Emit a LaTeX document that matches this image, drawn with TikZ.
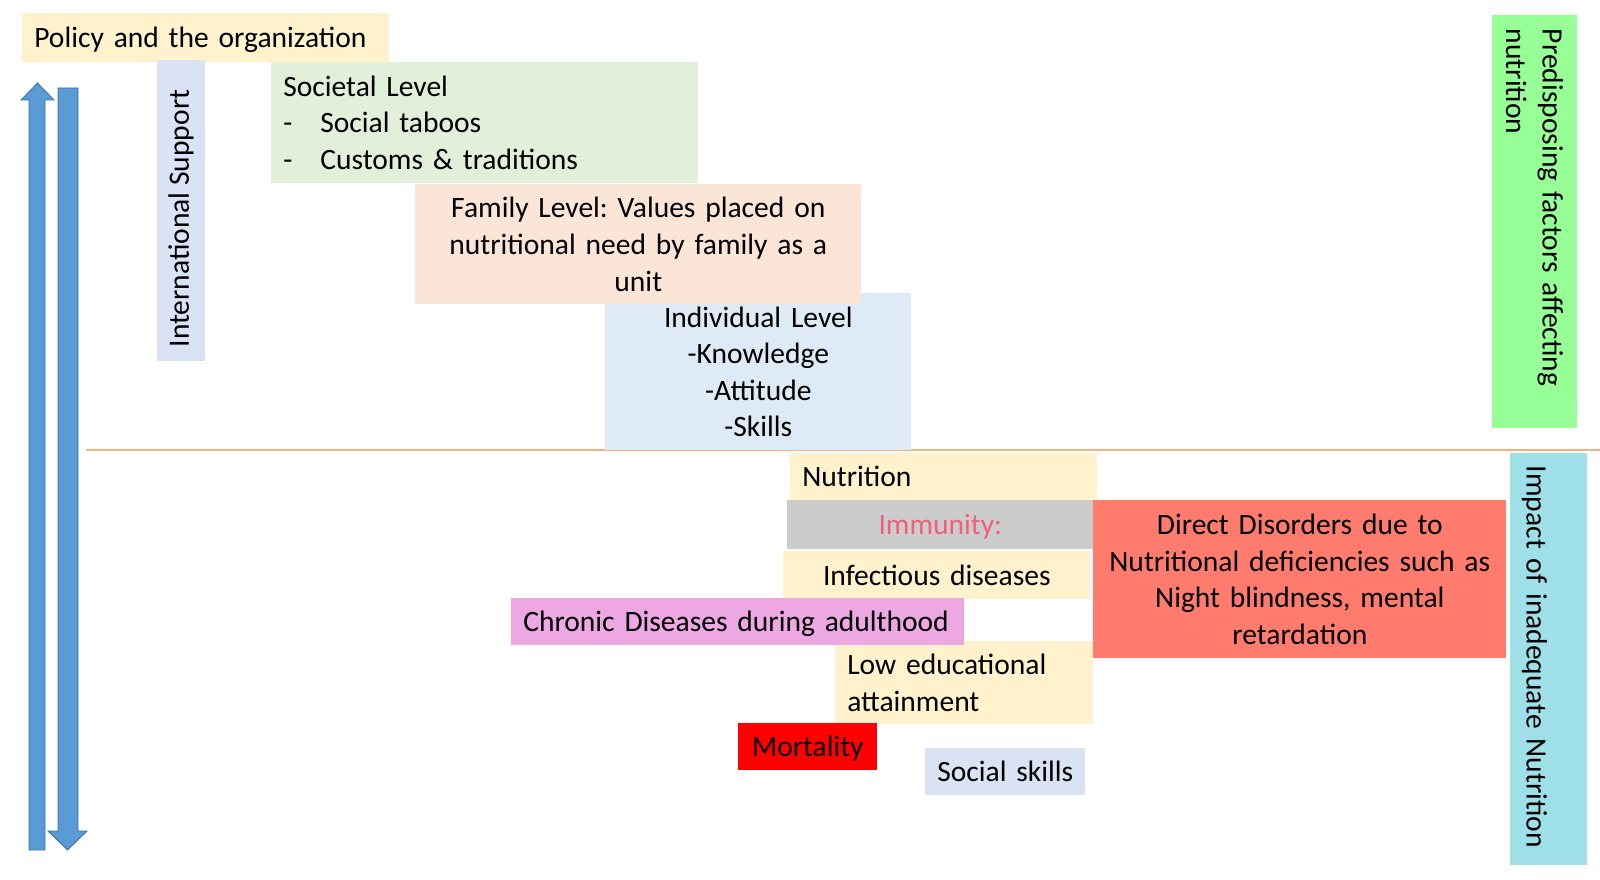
\documentclass[tikz,border=0pt]{standalone}
\usepackage{fontspec}
\setmainfont{Carlito}
\frenchspacing
\definecolor{goldfill}{HTML}{FFF2CC}
\definecolor{bluefill}{HTML}{DAE3F3}
\definecolor{greenfill}{HTML}{E2EFDA}
\definecolor{peachfill}{HTML}{FBE5D6}
\definecolor{skyfill}{HTML}{DEEBF7}
\definecolor{greyfill}{HTML}{CDCCCC}
\definecolor{immtext}{HTML}{F0607A}
\definecolor{salmonfill}{HTML}{FF7B6E}
\definecolor{orchidfill}{HTML}{EDA8E4}
\definecolor{limefill}{HTML}{96FF96}
\definecolor{cyanfill}{HTML}{9FDFE8}
\definecolor{arrowfill}{HTML}{5B9BD5}
\definecolor{arrowline}{HTML}{41719C}
\definecolor{sepline}{HTML}{F4B183}
\usetikzlibrary{positioning}

\begin{document}
\begin{tikzpicture}[x=0.025cm,y=-0.025cm,
    box/.style={anchor=north west,inner xsep=0.3cm,inner ysep=0pt,font=\fontsize{21}{26}\selectfont},
    lbox/.style={box,align=left},
    cbox/.style={box,align=center},
    oneline/.style={text height=14pt,text depth=0pt},
    sidebox/.style={anchor=center,inner ysep=0pt,font=\fontsize{21}{26}\selectfont},
    bigarrow/.style={fill=arrowfill,draw=arrowline,line width=0.6pt}]
  \useasboundingbox (0,0) rectangle (1600,880);
  \draw[sepline,line width=0.8pt] (86,450) -- (1600,450);
  \path[bigarrow] (29,850) -- (29,100) -- (21,100) -- (37.5,83) -- (54,100) -- (45,100) -- (45,850) -- cycle;
  \path[bigarrow] (58,88) -- (78,88) -- (78,831) -- (87,831) -- (67.5,850) -- (48,831) -- (58,831) -- cycle;
  \node[lbox,oneline,fill=goldfill,text width=8.575cm,minimum height=1.225cm] (policy) at (22,13) {Policy and the organization};
  \node[sidebox,fill=bluefill,rotate=90,minimum width=7.525cm,minimum height=1.2cm] (intl) at (181,210.5) {International Support\kern0.4cm};
  \node[lbox,fill=greenfill,text width=10.075cm,minimum height=3.025cm] (societal) at (271,62)
    {Societal Level\\\makebox[0.925cm][l]{-}Social taboos\\\makebox[0.925cm][l]{-}Customs \& traditions};
  \node[cbox,fill=skyfill,text width=7.05cm,minimum height=3.925cm] (individual) at (605,293)
    {Individual Level\\-Knowledge\\-Attitude\\-Skills};
  \node[cbox,fill=peachfill,text width=10.55cm,minimum height=3cm] (family) at (415,184)
    {Family Level: Values placed on\\nutritional need by family as a\\unit};
  \node[sidebox,fill=limefill,rotate=-90,align=left,inner xsep=0.35cm,text width=9.625cm,minimum width=10.325cm,minimum height=2.125cm] (predisp) at (1534.5,221.5)
    {Predisposing factors affecting\\nutrition};
  \node[lbox,oneline,fill=goldfill,text width=7.075cm,minimum height=1.175cm] (nutrition) at (790,453) {Nutrition};
  \node[cbox,oneline,fill=greyfill,text=immtext,text width=7.05cm,minimum height=1.225cm] (immunity) at (787,500) {Immunity:};
  \node[cbox,oneline,fill=goldfill,text width=7.075cm,minimum height=1.2cm] (infectious) at (783,551) {Infectious diseases};
  \node[cbox,fill=salmonfill,text width=9.725cm,minimum height=3.95cm] (direct) at (1093,500)
    {Direct Disorders due to\\Nutritional deficiencies such as\\Night blindness, mental\\retardation};
  \node[lbox,fill=goldfill,text width=5.85cm,minimum height=2.075cm] (lowedu) at (835,641) {Low educational\\attainment};
  \node[lbox,oneline,fill=orchidfill,text width=10.725cm,minimum height=1.175cm] (chronic) at (511,598) {Chronic Diseases during adulthood};
  \node[cbox,oneline,fill=red,text width=2.875cm,minimum height=1.175cm] (mortality) at (738,723) {Mortality};
  \node[cbox,oneline,fill=bluefill,text width=3.4cm,minimum height=1.175cm] (social) at (925,748) {Social skills};
  \node[sidebox,fill=cyanfill,rotate=-90,align=left,inner xsep=0.325cm,text width=9.65cm,minimum width=10.3cm,minimum height=1.925cm] (impact) at (1548.5,659)
    {\raisebox{-0.55cm}[0pt][0pt]{Impact of inadequate Nutrition}};
\end{tikzpicture}
\end{document}
